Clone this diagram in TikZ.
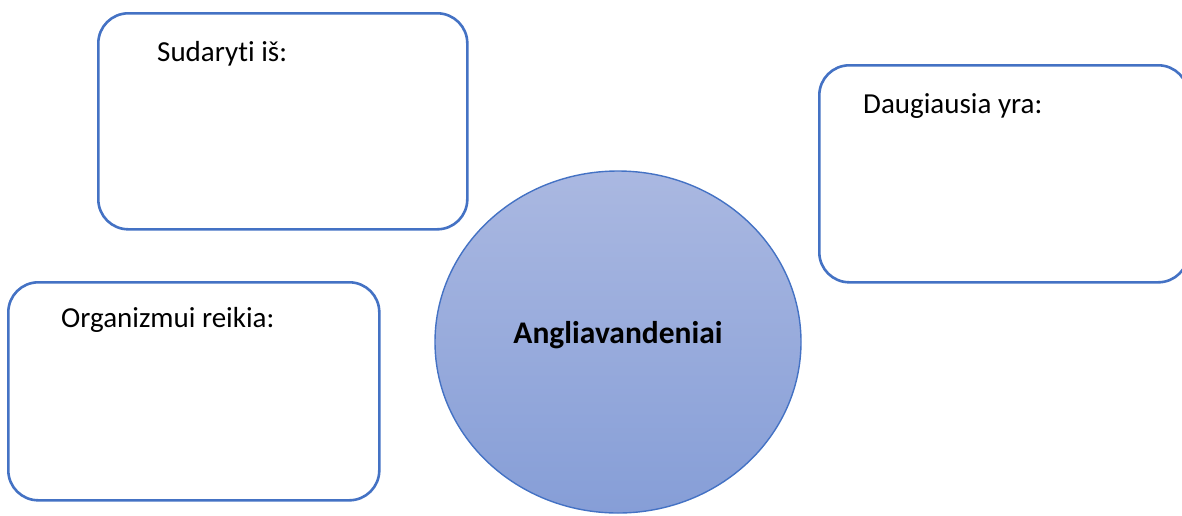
\documentclass[tikz,border=0pt]{standalone}
\usepackage{fontspec}
\setmainfont[Ligatures=NoCommon]{Carlito}
\usetikzlibrary{shapes.geometric}
\definecolor{offblue}{RGB}{68,114,196}
\definecolor{circtop}{RGB}{170,184,225}
\definecolor{circbot}{RGB}{134,158,215}
\tikzset{
  box/.style={draw=offblue, line width=2.6pt, rounded corners=30pt, fill=white, inner sep=0pt},
  boxtext/.style={anchor=base west, inner sep=0pt, font=\fontsize{29}{35}\selectfont},
  centre/.style={ellipse, draw=offblue, line width=1.4pt, top color=circtop, bottom color=circbot, inner sep=0pt,
    minimum width=366pt, minimum height=342pt},
}
\begin{document}
\begin{tikzpicture}[x=1pt,y=-1pt]
\useasboundingbox (0,0) rectangle (1182,515);
\clip (0,0) rectangle (1182,515);
% boxes
\node[box, minimum width=369pt, minimum height=216pt, anchor=north west] (b1) at (97,12) {};
\node[box, minimum width=371pt, minimum height=218pt, anchor=north west] (b2) at (7,281) {};
\node[box, minimum width=369pt, minimum height=217pt, anchor=north west] (b3) at (818,64) {};
% circle
\node[centre] (c) at (618,342) {};
% texts
\node[boxtext] (t1) at (157,61) {Sudaryti iš:};
\node[boxtext] (t2) at (61,327) {Organizmui reikia:};
\node[boxtext] (t3) at (863,113) {Daugiausia yra:};
\node[anchor=base, inner sep=0pt, font=\fontsize{31.5}{38}\selectfont\bfseries] (t4) at (618,343) {Angliavandeniai};
\end{tikzpicture}
\end{document}
